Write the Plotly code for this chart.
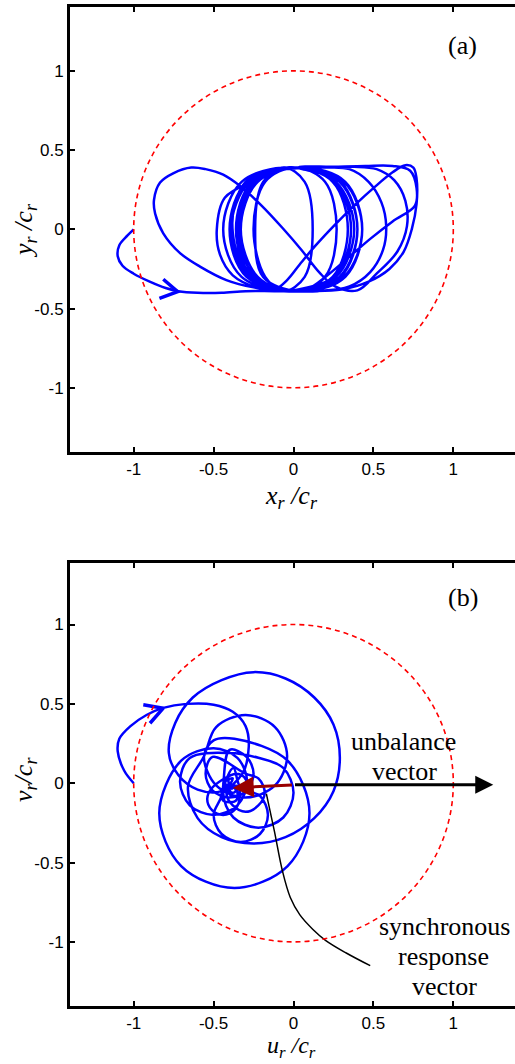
import plotly.graph_objects as go

# ---------------- data ----------------
TICK_VALS = [-1, -0.5, 0, 0.5, 1]
TICK_TEXT = ["-1", "-0.5", "0", "0.5", "1"]
CLEARANCE_R = 1.0

# (a) rotor orbit in fixed frame (x_r/c_r, y_r/c_r)
top_transient = [(-1.00, 0.00), (-1.04, -0.04), (-1.09, -0.10), (-1.10, -0.17), (-1.07, -0.23),
                 (-1.00, -0.28), (-0.90, -0.33), (-0.80, -0.37), (-0.72, -0.39), (-0.60, -0.40),
                 (-0.45, -0.40), (-0.30, -0.39), (-0.12, -0.39)]
top_loop_right = [(0.10, -0.39), (0.30, -0.38), (0.47, -0.33), (0.60, -0.25), (0.69, -0.14),
                  (0.74, 0.00), (0.77, 0.16), (0.77, 0.32), (0.75, 0.39), (0.70, 0.405),
                  (0.62, 0.36), (0.50, 0.26), (0.38, 0.15), (0.26, 0.03), (0.14, -0.10),
                  (0.04, -0.22), (-0.04, -0.32), (-0.12, -0.38)]
top_loop_left = [(-0.25, -0.366), (-0.42, -0.32), (-0.585, -0.235), (-0.71, -0.15), (-0.815, -0.025),
                 (-0.866, 0.10), (-0.873, 0.185), (-0.835, 0.295), (-0.75, 0.355), (-0.64, 0.39),
                 (-0.55, 0.38), (-0.44, 0.345), (-0.33, 0.27), (-0.20, 0.15), (-0.07, 0.01),
                 (0.05, -0.13), (0.16, -0.27), (0.26, -0.36), (0.40, -0.385)]
top_loop_mid = [(0.52, -0.28), (0.65, -0.14), (0.71, 0.02),
                (0.70, 0.18), (0.63, 0.31), (0.52, 0.38), (0.38, 0.395), (0.20, 0.39),
                (0.00, 0.39), (-0.18, 0.37), (-0.30, 0.30), (-0.37, 0.15), (-0.38, -0.02),
                (-0.34, -0.18), (-0.25, -0.31), (-0.12, -0.38), (0.00, -0.39),
                (0.15, -0.39), (0.35, -0.36), (0.48, -0.27), (0.56, -0.13), (0.58, 0.02),
                (0.55, 0.17), (0.47, 0.30), (0.35, 0.38), (0.20, 0.39), (0.02, 0.385),
                (-0.12, 0.37), (-0.24, 0.31), (-0.43, 0.20), (-0.48, 0.00), (-0.46, -0.16),
                (-0.38, -0.29), (-0.22, -0.37), (-0.05, -0.39)]
top_bundle = [(0.02, -0.39), (0.315, -0.30), (0.43, 0.00), (0.315, 0.30), (0.02, 0.39), (-0.275, 0.30), (-0.39, 0.00), (-0.275, -0.30),
              (0.00, -0.39), (0.288, -0.30), (0.40, 0.00), (0.288, 0.30), (0.00, 0.39), (-0.288, 0.30), (-0.40, 0.00), (-0.288, -0.30),
              (0.03, -0.39), (0.296, -0.30), (0.40, 0.00), (0.296, 0.30), (0.03, 0.39),
              (0.25, 0.395), (0.45, 0.40), (0.62, 0.40), (0.73, 0.37), (0.77, 0.26), (0.76, 0.15),
              (0.62, 0.05), (0.48, -0.06), (0.33, -0.19), (0.20, -0.30), (0.10, -0.37),
              (-0.02, -0.39), (0.254, -0.30), (0.36, 0.00), (0.254, 0.30), (-0.02, 0.39), (-0.294, 0.30), (-0.40, 0.00), (-0.294, -0.30),
              (0.05, -0.39), (0.324, -0.30), (0.43, 0.00), (0.324, 0.30), (0.05, 0.39), (-0.224, 0.30), (-0.33, 0.00), (-0.224, -0.30),
              (0.00, -0.39), (0.245, -0.30), (0.34, 0.00), (0.245, 0.30), (0.00, 0.39), (-0.245, 0.30), (-0.34, 0.00), (-0.245, -0.30),
              (-0.03, -0.39), (0.265, -0.30), (0.38, 0.00), (0.265, 0.30), (-0.03, 0.39), (-0.325, 0.30), (-0.44, 0.00), (-0.325, -0.30),
              (0.01, -0.39), (0.197, -0.30), (0.27, 0.00), (0.197, 0.30), (0.01, 0.39), (-0.177, 0.30), (-0.25, 0.00), (-0.177, -0.30),
              (-0.06, -0.39), (0.07, -0.30), (0.12, 0.00), (0.07, 0.30), (-0.06, 0.39), (-0.19, 0.30), (-0.24, 0.00), (-0.19, -0.30),
              (0.04, -0.39), (0.32, -0.30), (0.43, 0.00), (0.32, 0.30), (0.04, 0.39), (-0.24, 0.30), (-0.35, 0.00), (-0.24, -0.30),
              (0.00, -0.39), (0.26, -0.30), (0.36, 0.00), (0.26, 0.30), (0.00, 0.39), (-0.26, 0.30), (-0.36, 0.00), (-0.26, -0.30), (0.00, -0.39)]
top_chevron = [(-0.815, -0.315), (-0.725, -0.393), (-0.839, -0.435)]

# (b) rotor orbit in rotating frame (u_r/c_r, v_r/c_r)
bot_transient = [(-1.00, 0.00), (-1.06, 0.08), (-1.10, 0.20), (-1.09, 0.28), (-1.02, 0.36),
                 (-0.92, 0.43), (-0.815, 0.475), (-0.67, 0.50), (-0.50, 0.495), (-0.38, 0.45),
                 (-0.30, 0.36), (-0.28, 0.23), (-0.32, 0.06), (-0.45, -0.05), (-0.60, -0.04),
                 (-0.72, 0.05), (-0.78, 0.19), (-0.74, 0.38)]
bot_loops = [(-0.63, 0.54), (-0.45, 0.65), (-0.25, 0.70), (-0.05, 0.66), (0.13, 0.54), (0.25, 0.37),
             (0.29, 0.16), (0.25, -0.05), (0.13, -0.22), (-0.05, -0.34), (-0.25, -0.38), (-0.45, -0.34),
             (-0.60, -0.22), (-0.66, -0.02), (-0.56, 0.17), (-0.484, 0.354),
             (-0.30, 0.43), (-0.116, 0.354), (-0.04, 0.17), (-0.116, -0.014), (-0.30, -0.09), (-0.484, -0.014),
             (-0.56, 0.17), (-0.50, 0.27),
             (-0.37, 0.28), (-0.037, 0.142), (0.10, -0.19), (-0.037, -0.522), (-0.37, -0.66), (-0.703, -0.522),
             (-0.84, -0.19), (-0.703, 0.142),
             (-0.50, 0.22), (-0.351, 0.159), (-0.29, 0.01), (-0.351, -0.139), (-0.50, -0.20), (-0.649, -0.139),
             (-0.71, 0.01), (-0.649, 0.159),
             (-0.40, 0.19), (-0.22, 0.16), (-0.064, 0.096), (0.00, -0.06), (-0.064, -0.216), (-0.22, -0.28),
             (-0.376, -0.216), (-0.44, -0.06), (-0.376, 0.096),
             (-0.33, -0.03), (-0.21, -0.08), (-0.16, -0.20), (-0.21, -0.32), (-0.33, -0.37), (-0.45, -0.32),
             (-0.50, -0.20), (-0.45, -0.08),
             (-0.40, 0.21), (-0.294, 0.166), (-0.25, 0.06), (-0.294, -0.046), (-0.40, -0.09), (-0.506, -0.046),
             (-0.55, 0.06), (-0.506, 0.166),
             (-0.30, 0.06), (-0.22, 0.03), (-0.18, -0.06), (-0.22, -0.14), (-0.30, -0.18), (-0.38, -0.14),
             (-0.42, -0.06), (-0.38, 0.03),
             (-0.44, 0.00), (-0.37, -0.03), (-0.34, -0.10), (-0.37, -0.17), (-0.44, -0.20), (-0.51, -0.17),
             (-0.54, -0.10), (-0.51, -0.03),
             (-0.36, 0.06), (-0.31, 0.04), (-0.29, -0.01), (-0.31, -0.06), (-0.36, -0.08), (-0.41, -0.06),
             (-0.43, -0.01), (-0.41, 0.04),
             (-0.40, -0.02), (-0.36, -0.03), (-0.35, -0.07), (-0.36, -0.11), (-0.40, -0.12), (-0.44, -0.11),
             (-0.45, -0.07), (-0.44, -0.03),
             (-0.37, -0.015), (-0.345, -0.025), (-0.335, -0.05), (-0.345, -0.075), (-0.37, -0.085),
             (-0.395, -0.075), (-0.405, -0.05), (-0.395, -0.025),
             (-0.38, -0.02), (-0.366, -0.026), (-0.36, -0.04), (-0.366, -0.054), (-0.38, -0.06),
             (-0.394, -0.054), (-0.40, -0.04), (-0.394, -0.026), (-0.38, -0.04)]
bot_chevron = [(-0.94, 0.494), (-0.815, 0.473), (-0.898, 0.378)]

UNBALANCE_TAIL = (0.0, -0.01)
UNBALANCE_TIP = (1.25, -0.01)
SYNC_TAIL = (0.0, -0.01)
SYNC_TIP = (-0.38, -0.03)
leader_line = [(-0.17, -0.065), (-0.12, -0.30), (-0.07, -0.55), (-0.02, -0.72), (0.04, -0.83),
               (0.12, -0.92), (0.20, -0.99), (0.33, -1.07), (0.48, -1.15)]

# ---------------- figure ----------------
BLUE = "#0000FF"
SERIF = "Liberation Serif"
SANS = "Liberation Sans"


def xs(pts):
    return [p[0] for p in pts]


def ys(pts):
    return [p[1] for p in pts]


top_path = top_transient + top_loop_right + top_loop_left + top_loop_mid + top_bundle
bot_path = bot_transient + bot_loops

fig = go.Figure()
fig.add_trace(go.Scatter(x=xs(top_path), y=ys(top_path), mode="lines", xaxis="x", yaxis="y",
                         line=dict(color=BLUE, width=2.5, shape="spline", smoothing=1.0),
                         hoverinfo="skip", showlegend=False))
fig.add_trace(go.Scatter(x=xs(top_chevron), y=ys(top_chevron), mode="lines", xaxis="x", yaxis="y",
                         line=dict(color=BLUE, width=3.5), hoverinfo="skip", showlegend=False))
fig.add_trace(go.Scatter(x=xs(bot_path), y=ys(bot_path), mode="lines", xaxis="x2", yaxis="y2",
                         line=dict(color=BLUE, width=2.5, shape="spline", smoothing=1.0),
                         hoverinfo="skip", showlegend=False))
fig.add_trace(go.Scatter(x=xs(bot_chevron), y=ys(bot_chevron), mode="lines", xaxis="x2", yaxis="y2",
                         line=dict(color=BLUE, width=3.5), hoverinfo="skip", showlegend=False))
fig.add_trace(go.Scatter(x=xs(leader_line), y=ys(leader_line), mode="lines", xaxis="x2", yaxis="y2",
                         line=dict(color="black", width=1.5, shape="spline"),
                         hoverinfo="skip", showlegend=False))

for xr, yr in (("x", "y"), ("x2", "y2")):
    fig.add_shape(type="circle", xref=xr, yref=yr, x0=-CLEARANCE_R, x1=CLEARANCE_R,
                  y0=-CLEARANCE_R, y1=CLEARANCE_R,
                  line=dict(color="#FF0000", width=1.6, dash="5px,4px"))

axis_common = dict(tickvals=TICK_VALS, ticktext=TICK_TEXT, ticks="inside", ticklen=5, tickwidth=1.5,
                   tickcolor="black", showline=True, linewidth=3, linecolor="black",
                   showgrid=False, zeroline=False, tickfont=dict(family=SANS, size=17, color="black"))
right_ticks = dict(tickvals=TICK_VALS, ticks="inside", ticklen=5, tickwidth=1.5, tickcolor="black",
                   showticklabels=False, showline=False, showgrid=False, zeroline=False, side="right")

XR = [-1.3986, 1.386]
fig.update_layout(
    width=515, height=1064, autosize=False,
    margin=dict(l=70, r=0, t=0, b=0),
    paper_bgcolor="white", plot_bgcolor="white",
    font=dict(family=SANS, color="black"),
    xaxis=dict(domain=[0, 1], anchor="y", range=XR, mirror="ticks", **axis_common),
    yaxis=dict(domain=[0.5752, 0.9934], anchor="x", range=[-1.405, 1.403], **axis_common),
    xaxis2=dict(domain=[0, 1], anchor="y2", range=XR, mirror="ticks", **axis_common),
    yaxis2=dict(domain=[0.0548, 0.4712], anchor="x2", range=[-1.402, 1.39], **axis_common),
    yaxis3=dict(overlaying="y", anchor="x", range=[-1.405, 1.403], **right_ticks),
    yaxis4=dict(overlaying="y2", anchor="x2", range=[-1.402, 1.39], **right_ticks),
)

# vectors
fig.add_annotation(xref="x2", yref="y2", axref="x2", ayref="y2",
                   x=UNBALANCE_TIP[0], y=UNBALANCE_TIP[1], ax=UNBALANCE_TAIL[0], ay=UNBALANCE_TAIL[1],
                   text="", showarrow=True, arrowhead=2, arrowsize=1.2, arrowwidth=3, arrowcolor="black")
fig.add_annotation(xref="x2", yref="y2", axref="x2", ayref="y2",
                   x=SYNC_TIP[0], y=SYNC_TIP[1], ax=SYNC_TAIL[0], ay=SYNC_TAIL[1],
                   text="", showarrow=True, arrowhead=2, arrowsize=1.4, arrowwidth=3, arrowcolor="#990000")

serif_font = dict(family=SERIF, size=26, color="black")
texts = [
    ("x", "y", 1.058, 1.163, "(a)"),
    ("x2", "y2", 1.058, 1.168, "(b)"),
    ("x2", "y2", 0.69, 0.262, "unbalance"),
    ("x2", "y2", 0.692, 0.073, "vector"),
    ("x2", "y2", 0.946, -0.905, "synchronous"),
    ("x2", "y2", 0.94, -1.094, "response"),
    ("x2", "y2", 0.946, -1.283, "vector"),
]
for xr, yr, xv, yv, t in texts:
    fig.add_annotation(xref=xr, yref=yr, x=xv, y=yv, text=t, showarrow=False,
                       xanchor="center", yanchor="middle", font=serif_font)

# axis titles placed in paper coords (paper x spans the plot area: 70px .. 515px)
PLOT_L, PLOT_W = 70, 445
axis_titles = [
    ((291.7 - PLOT_L) / PLOT_W, 1 - 497 / 1064, 0, "middle", 26, "<i>x<sub>r</sub> /c<sub>r</sub></i>"),
    ((25 - PLOT_L) / PLOT_W, 1 - 231 / 1064, -90, "middle", 26, "<i>y<sub>r</sub> /c<sub>r</sub></i>"),
    ((291.7 - PLOT_L) / PLOT_W, 1 - 1063 / 1064, 0, "bottom", 24, "<i>u<sub>r</sub> /c<sub>r</sub></i>"),
    ((25 - PLOT_L) / PLOT_W, 1 - 780 / 1064, -90, "middle", 26, "<i>v<sub>r</sub>/c<sub>r</sub></i>"),
]
for xp, yp, ang, ya, fs, t in axis_titles:
    fig.add_annotation(xref="paper", yref="paper", x=xp, y=yp, text=t, showarrow=False,
                       textangle=ang, xanchor="center", yanchor=ya,
                       font=dict(family=SERIF, size=fs, color="black"), borderpad=0)

fig.write_html("out.html")
